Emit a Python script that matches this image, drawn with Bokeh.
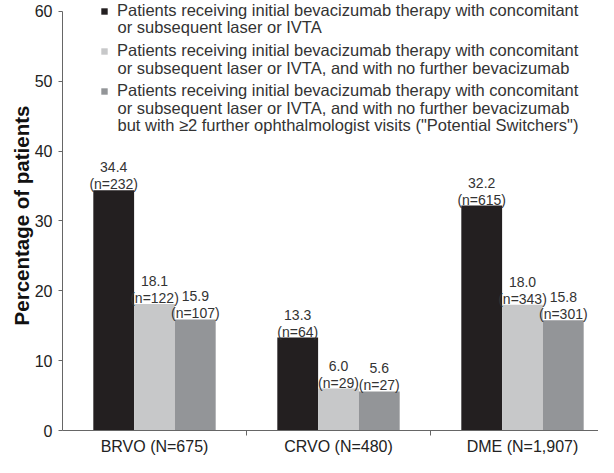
from bokeh.plotting import figure
from bokeh.models import Range1d, FixedTicker, Legend, LegendItem, ColumnDataSource, Label
from bokeh.core.properties import value
from bokeh.embed import file_html
from bokeh.resources import INLINE

groups = ["BRVO (N=675)", "CRVO (N=480)", "DME (N=1,907)"]
series_lines = [
    ["Patients receiving initial bevacizumab therapy with concomitant",
     "or subsequent laser or IVTA"],
    ["Patients receiving initial bevacizumab therapy with concomitant",
     "or subsequent laser or IVTA, and with no further bevacizumab"],
    ["Patients receiving initial bevacizumab therapy with concomitant",
     "or subsequent laser or IVTA, and with no further bevacizumab",
     "but with \u22652 further ophthalmologist visits (\"Potential Switchers\")"],
]
pct_laser = [34.4, 13.3, 32.2]
n_laser = [232, 64, 615]
pct_no_further = [18.1, 6.0, 18.0]
n_no_further = [122, 29, 343]
pct_switchers = [15.9, 5.6, 15.8]
n_switchers = [107, 27, 301]
y_ticks = [0, 10, 20, 30, 40, 50, 60]
Y_MAX = 60

colors = ["#231f20", "#c7c8c9", "#939598"]
FONT = "Liberation Sans"

BORDER_L, BORDER_T, BORDER_B = 62, 0, 26
WIDTH, HEIGHT = 598, 457
GROUP_PX = 184
FRAME_W = WIDTH - BORDER_L
FRAME_H = HEIGHT - BORDER_T - BORDER_B
TOP_PAD = 11  # px between frame top and the 60 tick
y_end = Y_MAX * FRAME_H / (FRAME_H - TOP_PAD)

p = figure(width=WIDTH, height=HEIGHT, output_backend="svg", toolbar_location=None,
           x_range=Range1d(0, FRAME_W / GROUP_PX), y_range=Range1d(0, y_end),
           min_border_left=BORDER_L, min_border_right=0, min_border_top=BORDER_T,
           min_border_bottom=BORDER_B)
p.outline_line_color = None
p.xgrid.visible = False
p.ygrid.visible = False
p.background_fill_color = "white"

bar_w = 0.2217
offsets = [-bar_w, 0.0, bar_w]
all_vals = [pct_laser, pct_no_further, pct_switchers]
all_ns = [n_laser, n_no_further, n_switchers]
items = []
for k in range(3):
    xs = [i + 0.5 + offsets[k] for i in range(len(groups))]
    src = ColumnDataSource(dict(
        x=xs, top=all_vals[k],
        vlab=["%.1f" % v for v in all_vals[k]],
        nlab=["(n=%d)" % n for n in all_ns[k]],
    ))
    r = p.vbar(x="x", top="top", width=bar_w, bottom=0, source=src,
               fill_color=colors[k], line_color=None)
    items.append(LegendItem(label=series_lines[k][0], renderers=[r]))
    p.text(x="x", y="top", text="nlab", source=src, y_offset=-6,
           text_align="center", text_baseline="alphabetic", text_font_size="14px",
           text_color="#333333", text_font=value(FONT))
    p.text(x="x", y="top", text="vlab", source=src, y_offset=-23,
           text_align="center", text_baseline="alphabetic", text_font_size="14px",
           text_color="#333333", text_font=value(FONT))

xt = FixedTicker(ticks=[0.5, 1.5, 2.5], minor_ticks=[1, 2])
p.xaxis.ticker = xt
p.xaxis.major_label_overrides = {0.5: groups[0], 1.5: groups[1], 2.5: groups[2]}
p.xaxis.major_tick_out = 0
p.xaxis.major_tick_in = 0
p.xaxis.minor_tick_out = 5
p.xaxis.minor_tick_in = 0
p.xaxis.major_label_standoff = 2
p.xaxis.major_label_text_font_size = "16px"
p.xaxis.major_label_text_font = FONT
p.xaxis.major_label_text_color = "#222222"
p.xaxis.axis_line_color = "#666666"
p.xaxis.minor_tick_line_color = "#666666"

p.yaxis.ticker = FixedTicker(ticks=y_ticks, minor_ticks=[])
p.yaxis.bounds = (0, Y_MAX)
p.yaxis.major_tick_out = 4
p.yaxis.major_tick_in = 0
p.yaxis.major_label_standoff = 6
p.yaxis.major_label_text_font_size = "16px"
p.yaxis.major_label_text_font = FONT
p.yaxis.major_label_text_color = "#222222"
p.yaxis.axis_line_color = "#666666"
p.yaxis.major_tick_line_color = "#666666"
p.yaxis.axis_label = "Percentage of patients"
p.yaxis.axis_label_text_font = FONT
p.yaxis.axis_label_text_font_size = "20.5px"
p.yaxis.axis_label_text_font_style = "bold"
p.yaxis.axis_label_text_color = "#111111"
p.yaxis.axis_label_standoff = -1

# legend layout (screen px, measured from the frame's top / left)
LEG_X = 38
GLYPH = 8
STANDOFF = 9
ITEM_H = 19
LINE_STEP = 17
ITEM_STEP = 40.5
FIRST_LINE = 10.5  # centre of first legend line, px below frame top

leg_h = 3 * ITEM_H + 2 * (ITEM_STEP - ITEM_H)
leg_top = FRAME_H - FIRST_LINE + ITEM_H / 2
legend = Legend(items=items, location=(LEG_X, leg_top - leg_h), orientation="vertical",
                label_text_font=FONT, label_text_font_size="16.5px",
                label_text_color="#333333", glyph_width=GLYPH, glyph_height=GLYPH,
                label_height=ITEM_H, label_standoff=STANDOFF, spacing=int(ITEM_STEP - ITEM_H),
                padding=0, margin=0, border_line_color=None, background_fill_alpha=0)
p.add_layout(legend)

for k, lines in enumerate(series_lines):
    for j, line in enumerate(lines[1:], start=1):
        yc = FRAME_H - (FIRST_LINE + k * ITEM_STEP + j * LINE_STEP)
        p.add_layout(Label(x=LEG_X + GLYPH + STANDOFF, y=yc, x_units="screen", y_units="screen",
                           text=line, text_font=FONT, text_font_size="16.5px",
                           text_color="#333333", text_align="left", text_baseline="middle"))

open("out.html", "w").write(file_html(p, INLINE))
